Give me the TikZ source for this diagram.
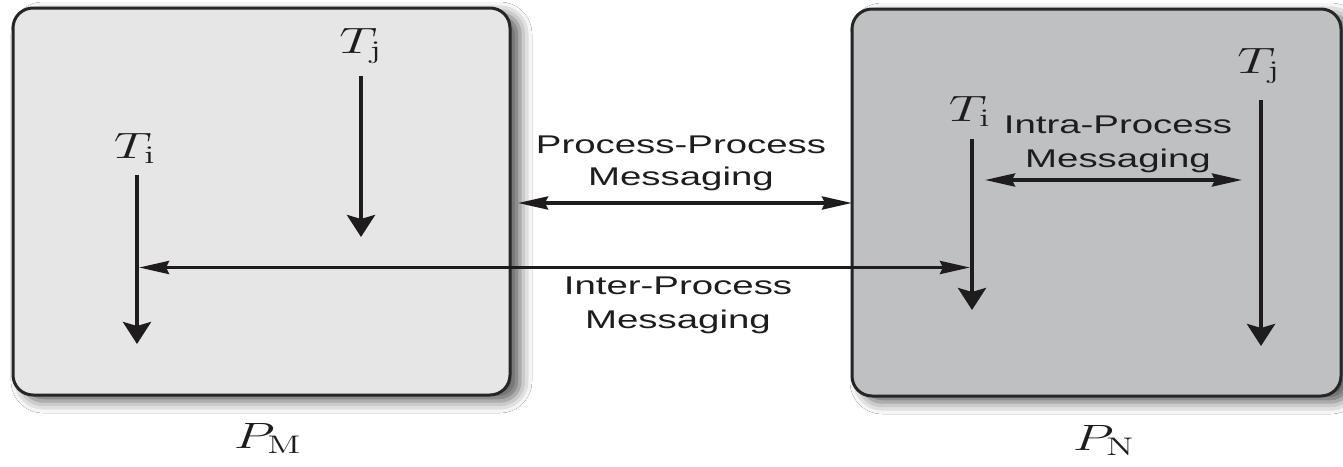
\documentclass[tikz,border=0pt]{standalone}
\usepackage{fontspec}
\newfontfamily\arialf{Liberation Sans}
\usetikzlibrary{arrows.meta,shadows.blur}
\definecolor{lightbox}{HTML}{E6E6E6}
\definecolor{darkbox}{HTML}{BFC0C2}
\definecolor{edge}{HTML}{262626}
\definecolor{ink}{HTML}{1E1C1C}
\newcommand{\mytxt}[1]{\scalebox{1.5}[1]{\arialf\fontsize{12.8}{15}\selectfont #1}}
\newcommand{\mymath}[1]{\scalebox{1.54}[1.06]{\LARGE $#1$}}
\begin{document}
\begin{tikzpicture}[x=0.5pt,y=-0.5pt,
  procbox/.style={draw=edge,line width=1.5pt,rounded corners=10pt,
    blur shadow={shadow xshift=5pt,shadow yshift=-3pt,shadow blur radius=6pt,shadow opacity=65}},
  vthread/.style={draw=ink,line width=2.1pt,-{Stealth[length=11pt,width=14pt,inset=2pt]}},
  hmsg/.style={draw=ink,line width=1.8pt,{Stealth[length=15pt,width=6.5pt,inset=1.5pt]}-{Stealth[length=15pt,width=6.5pt,inset=1.5pt]}},
  lbl/.style={inner sep=0pt,anchor=base,text=ink}]
\useasboundingbox[fill=white] (0,0) rectangle (1343,466);
% process boxes
\path[procbox,fill=lightbox] (13,8) rectangle (510,395);
\path[procbox,fill=darkbox] (852,9) rectangle (1341,396);
% thread labels
\node[lbl] (lTi) at (135,158) {\mymath{T_{\mathrm{i}}}};
\node[lbl] (lTj) at (361,53) {\mymath{T_{\mathrm{j}}}};
\node[lbl] (rTi) at (970,121) {\mymath{T_{\mathrm{i}}}};
\node[lbl] (rTj) at (1259,73) {\mymath{T_{\mathrm{j}}}};
\node[lbl] (PM) at (268,448) {\mymath{P_{\mathrm{M}}}};
\node[lbl] (PN) at (1104,450) {\mymath{P_{\mathrm{N}}}};
% thread line coordinates
\coordinate (lTiA) at (137,175); \coordinate (lTiB) at (137,344);
\coordinate (lTjA) at (361,76);  \coordinate (lTjB) at (361,237);
\coordinate (rTiA) at (972,139); \coordinate (rTiB) at (972,310);
\coordinate (rTjA) at (1261,100);\coordinate (rTjB) at (1261,346);
\draw[vthread] (lTiA) -- (lTiB);
\draw[vthread] (lTjA) -- (lTjB);
\draw[vthread] (rTiA) -- (rTiB);
\draw[vthread] (rTjA) -- (rTjB);
% messaging arrows
\coordinate (ppL) at (518,203);   \coordinate (ppR) at (852,203);
\coordinate (ipL) at (139,267.5); \coordinate (ipR) at (970,267.5);
\coordinate (inL) at (985,180);   \coordinate (inR) at (1242,180);
\draw[hmsg] (ppL) -- (ppR);
\draw[hmsg] (ipL) -- (ipR);
\draw[hmsg] (inL) -- (inR);
% messaging labels
\node[lbl] (pp1) at (681,153) {\mytxt{Process-Process}};
\node[lbl] (pp2) at (681,185) {\mytxt{Messaging}};
\node[lbl] (ip1) at (678,294) {\mytxt{Inter-Process}};
\node[lbl] (ip2) at (678,328) {\mytxt{Messaging}};
\node[lbl] (in1) at (1118,133) {\mytxt{Intra-Process}};
\node[lbl] (in2) at (1118,167) {\mytxt{Messaging}};
\end{tikzpicture}
\end{document}
